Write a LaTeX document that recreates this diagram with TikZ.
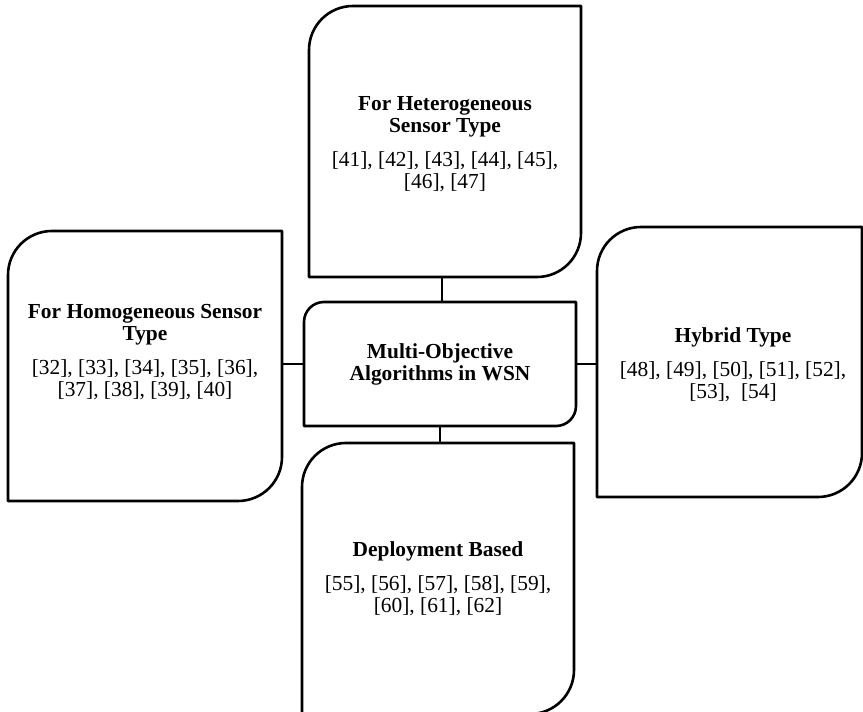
\documentclass[tikz,border=0pt]{standalone}
\usepackage{fontspec}
\setmainfont{Liberation Serif}
\usetikzlibrary{calc}

% Outline of a frame with rounded north-west and south-east corners
\newcommand\cutcornerbox[2]{%
  \draw[outline] (#1.south west) -- ([yshift=-#2]#1.north west)
    arc[start angle=180, end angle=90, radius=#2]
    -- (#1.north east) -- ([yshift=#2]#1.south east)
    arc[start angle=0, end angle=-90, radius=#2] -- cycle;}

\begin{document}
\begin{tikzpicture}[x=1pt,y=1pt,
  outline/.style={line width=2.6pt, line join=round, draw=black},
  link/.style={line width=2.6pt, draw=black},
  frame/.style={rectangle, inner sep=0pt, outer sep=0pt},
  txt/.style={align=center, inner sep=0pt, font=\fontsize{21.4}{22}\selectfont}]

\useasboundingbox (0,0) rectangle (863,712);
\fill[white] (0,0) rectangle (863,712);

% frames
\node[frame, minimum width=272pt, minimum height=271pt] (hetero) at (445,570.5) {};
\node[frame, minimum width=274pt, minimum height=270pt] (homo)   at (145,346) {};
\node[frame, minimum width=265pt, minimum height=270pt] (hybrid) at (729.5,350) {};
\node[frame, minimum width=272pt, minimum height=271pt] (deploy) at (438,133.5) {};
\node[frame, txt, minimum width=272pt, minimum height=124pt] (hub) at (440,348)
  {\textbf{Multi-Objective}\\\textbf{Algorithms in WSN}};

\cutcornerbox{hetero}{44pt}
\cutcornerbox{homo}{44pt}
\cutcornerbox{hybrid}{44pt}
\cutcornerbox{deploy}{44pt}
\cutcornerbox{hub}{20pt}

% frame contents
\node[txt] (heterotxt) at (445,568)
  {\textbf{For Heterogeneous}\\\textbf{Sensor Type}\\[12pt]{[41], [42], [43], [44], [45],}\\{[46], [47]}};
\node[txt] (homotxt) at (145,359.5)
  {\textbf{For Homogeneous Sensor}\\\textbf{Type}\\[12pt]{[32], [33], [34], [35], [36],}\\{[37], [38], [39], [40]}};
\node[txt] (hybridtxt) at (733,347)
  {\textbf{Hybrid Type}\\[12pt]{[48], [49], [50], [51], [52],}\\{[53],~ [54]}};
\node[txt] (deploytxt) at (438,133)
  {\textbf{Deployment Based}\\[12pt]{[55], [56], [57], [58], [59],}\\{[60], [61], [62]}};

% connectors
\draw[link] ([xshift=2pt]hub.north) -- ([xshift=2pt]hub.north |- hetero.south);
\draw[link] (hub.west) -- (hub.west -| homo.east);
\draw[link] (hub.east) -- (hub.east -| hybrid.west);
\draw[link] (hub.south) -- (hub.south |- deploy.north);

\end{tikzpicture}
\end{document}
